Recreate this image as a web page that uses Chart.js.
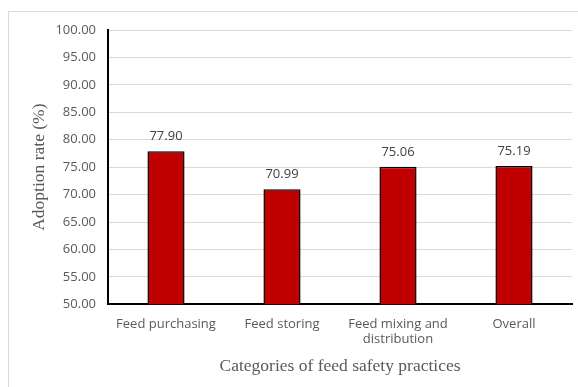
<!DOCTYPE html>
<html>
<head>
<meta charset="utf-8">
<script src="https://cdn.jsdelivr.net/npm/chart.js@4"></script>
<style>
  html, body { margin: 0; padding: 0; background: #fff; }
  #wrap { position: relative; width: 578px; height: 387px; overflow: hidden; }
  #frame { position: absolute; left: 8px; top: 11px; width: 620px; height: 420px; border: 1px solid #d9d9d9; box-sizing: border-box; }
  canvas { position: absolute; left: 0; top: 0; }
</style>
</head>
<body>
<div id="wrap">
  <div id="frame"></div>
  <canvas id="c" width="578" height="387"></canvas>
</div>
<script>
// Adoption rate per category of feed safety practice
const categories = [
  "Feed purchasing",
  "Feed storing",
  ["Feed mixing and", "distribution"],
  "Overall"
];
const adoptionRates = [77.90, 70.99, 75.06, 75.19];
const yMin = 50;
const yMax = 100;
const yStep = 5;

const tickFont = { family: "'Open Sans', sans-serif", size: 13 };
const titleFont = { family: "'Liberation Serif', serif", size: 17.5 };

// Writes the value above each bar
const valueLabels = {
  id: 'valueLabels',
  afterDatasetsDraw(chart) {
    const ctx = chart.ctx;
    const meta = chart.getDatasetMeta(0);
    ctx.save();
    ctx.font = "13px 'Open Sans', sans-serif";
    ctx.fillStyle = '#404040';
    ctx.textAlign = 'center';
    ctx.textBaseline = 'middle';
    meta.data.forEach((bar, i) => {
      ctx.fillText(adoptionRates[i].toFixed(2), bar.x, bar.y - 15);
    });
    ctx.restore();
  }
};

new Chart(document.getElementById('c'), {
  type: 'bar',
  data: {
    labels: categories,
    datasets: [{
      data: adoptionRates,
      backgroundColor: '#c00000',
      borderColor: '#000000',
      borderWidth: 1.5,
      categoryPercentage: 0.32,
      barPercentage: 1
    }]
  },
  options: {
    responsive: false,
    animation: false,
    devicePixelRatio: 1,
    layout: { padding: { top: 30, right: 6, bottom: 10.5, left: 0 } },
    plugins: {
      legend: { display: false },
      tooltip: { enabled: false }
    },
    scales: {
      x: {
        grid: { display: false, drawTicks: false },
        border: { display: true, color: '#000000', width: 2 },
        ticks: { color: '#595959', font: tickFont, padding: 12, maxRotation: 0, autoSkip: false },
        title: {
          display: true,
          text: 'Categories of feed safety practices',
          color: '#595959',
          font: titleFont,
          padding: { top: -4, bottom: 0 }
        }
      },
      y: {
        min: yMin,
        max: yMax,
        afterFit(scale) { scale.width = 108; },
        grid: { color: '#d9d9d9', lineWidth: 1, drawTicks: false },
        border: { display: true, color: '#000000', width: 2 },
        ticks: {
          stepSize: yStep,
          color: '#595959',
          font: tickFont,
          padding: 12,
          callback: v => Number(v).toFixed(2)
        },
        title: {
          display: true,
          text: 'Adoption rate (%)',
          color: '#595959',
          font: titleFont,
          padding: { top: 29, bottom: 0 }
        }
      }
    }
  },
  plugins: [valueLabels]
});
</script>
</body>
</html>
